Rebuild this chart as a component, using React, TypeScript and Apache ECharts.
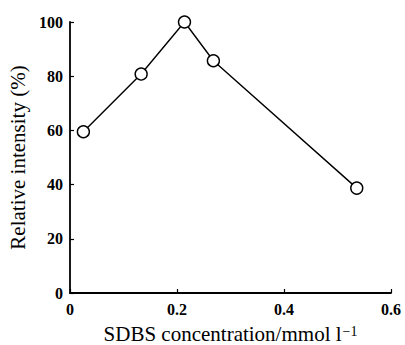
import React, { useEffect, useRef } from "react";
import * as echarts from "echarts";

const concentrations = [0.025, 0.133, 0.214, 0.268, 0.536];
const intensities = [59.5, 80.8, 100, 85.7, 38.7];
const xTicks = [0, 0.2, 0.4, 0.6];
const yTicks = [0, 20, 40, 60, 80, 100];

export default function App() {
  const ref = useRef<HTMLDivElement>(null);
  useEffect(() => {
    const chart = echarts.init(ref.current!, null, { renderer: "svg" });
    const font = "Liberation Serif";
    chart.setOption({
      animation: false,
      backgroundColor: "#fff",
      textStyle: { fontFamily: font },
      grid: { left: 70, right: 14, top: 22, bottom: 52, containLabel: false, outerBoundsMode: "none" },
      xAxis: {
        type: "value",
        min: xTicks[0],
        max: xTicks[xTicks.length - 1],
        interval: 0.2,
        name: "{a|SDBS concentration/mmol l}{s|−1}",
        nameLocation: "middle",
        nameGap: 31,
        nameTextStyle: {
          fontFamily: font,
          lineHeight: 20,
          rich: {
            a: { fontFamily: font, fontSize: 21, lineHeight: 20, color: "#000" },
            s: { fontFamily: font, fontSize: 14, lineHeight: 6, color: "#000", verticalAlign: "top", padding: [0, 0, 0, 1] },
          },
        },
        axisLine: { show: true, lineStyle: { color: "#000", width: 1.8 } },
        axisTick: { show: true, inside: true, length: 4, lineStyle: { color: "#000", width: 1.2 } },
        axisLabel: {
          fontFamily: font,
          fontWeight: "bold",
          fontSize: 16,
          color: "#000",
          margin: 8,
          formatter: (v: number) => (v === 0 ? "0" : String(Math.round(v * 10) / 10)),
        },
        splitLine: { show: false },
      },
      yAxis: {
        type: "value",
        min: yTicks[0],
        max: yTicks[yTicks.length - 1],
        interval: 20,
        name: "Relative intensity (%)",
        nameLocation: "middle",
        nameGap: 36,
        nameTextStyle: { fontFamily: font, fontSize: 21, color: "#000" },
        axisLine: { show: true, lineStyle: { color: "#000", width: 1.8 } },
        axisTick: { show: true, inside: true, length: 4, lineStyle: { color: "#000", width: 1.2 } },
        axisLabel: { fontFamily: font, fontWeight: "bold", fontSize: 16, color: "#000", margin: 7 },
        splitLine: { show: false },
      },
      series: [
        {
          type: "line",
          data: concentrations.map((c, i) => [c, intensities[i]]),
          symbol: "circle",
          symbolSize: 12,
          lineStyle: { color: "#000", width: 1.4 },
          itemStyle: { color: "#fff", borderColor: "#000", borderWidth: 1.4 },
        },
      ],
    });
    return () => chart.dispose();
  }, []);
  return <div ref={ref} style={{ width: 405, height: 345, position: "absolute", left: 0, top: 0 }} />;
}
